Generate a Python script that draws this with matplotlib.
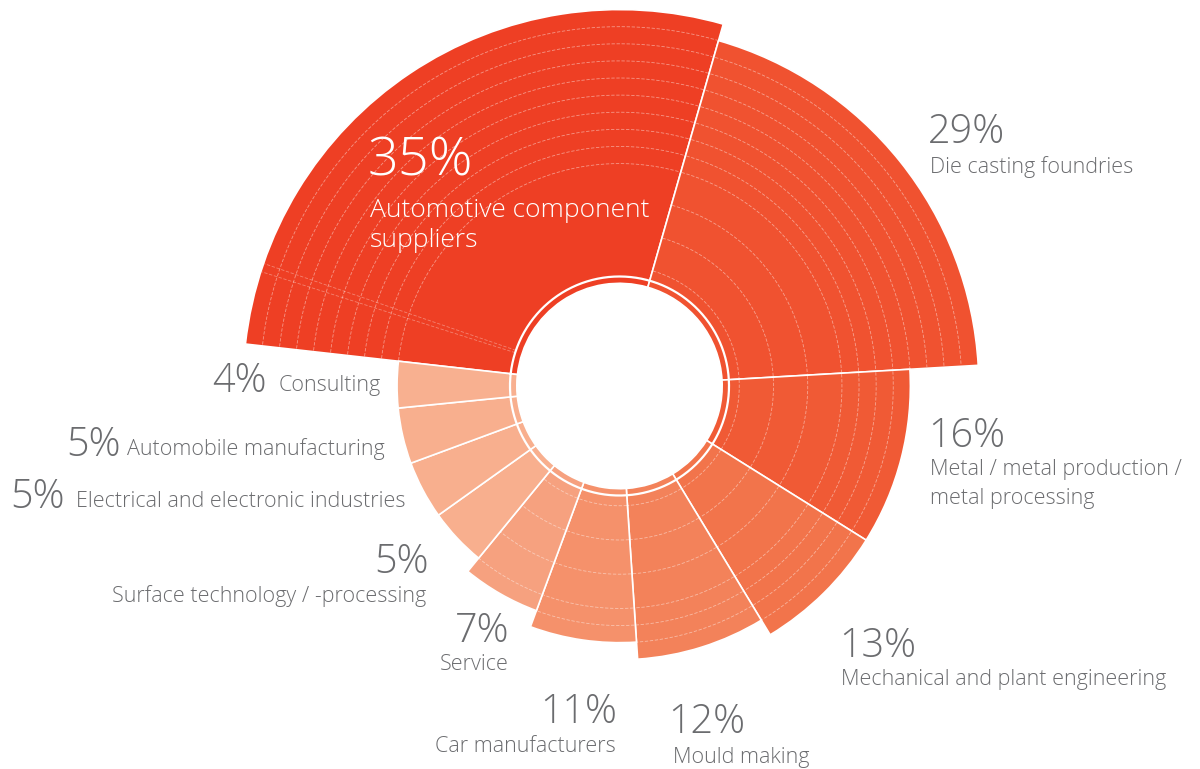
import numpy as np
import matplotlib
matplotlib.use("Agg")
import matplotlib.pyplot as plt

# survey share by industry, largest first, clockwise
industries = [
    ["Automotive component", "suppliers"],
    ["Die casting foundries"],
    ["Metal / metal production /", "metal processing"],
    ["Mechanical and plant engineering"],
    ["Mould making"],
    ["Car manufacturers"],
    ["Service"],
    ["Surface technology / -processing"],
    ["Electrical and electronic industries"],
    ["Automobile manufacturing"],
    ["Consulting"],
]
shares = [35, 29, 16, 13, 12, 11, 7, 5, 5, 5, 4]
# sector sweep in degrees and outer ring level of each sector
sweep_deg = [99.6, 70.7, 35.3, 26.8, 27.4, 24.1, 19.0, 15.2, 15.2, 14.6, 12.1]
reach = [22, 21, 17, 17, 16, 15, 14, 13, 13, 13, 13]

shades = ["#EE3F24", "#F05230", "#F05A35", "#F2744B", "#F3825A", "#F5916B",
          "#F6A17F", "#F8AF8E", "#F8AF8E", "#F8AF8E", "#F8B090"]
inner_grid = [False, True, True, True, True, True, True, False, False, False, False]

W, H = 1200, 769
FONT = "Open Sans"
GREY = "#6B6C6F"

fig = plt.figure(figsize=(W / 100, H / 100), dpi=100)
cx, cy, half = 619.5, 383, 385
ax = fig.add_axes([(cx - half) / W, (cy - half) / H, 2 * half / W, 2 * half / H],
                  projection="polar")
ax.set_theta_offset(np.deg2rad(173.6))
ax.set_theta_direction(-1)
ax.set_ylim(0, 22.5)
ax.set_axis_off()

hole = 6.0
spans = np.deg2rad(sweep_deg)
starts = np.concatenate([[0], np.cumsum(spans)[:-1]])
mids = starts + spans / 2
ax.bar(mids, np.array(reach) - hole, width=spans, bottom=hole, color=shades,
       edgecolor="white", linewidth=1.2, align="center", zorder=2)

# faint ring lines inside the sectors
for i in range(len(shares)):
    levels = [g for g in range(7, 22)
              if g < reach[i] and (g >= 13 or (inner_grid[i] and g % 2 == 1))]
    t = np.linspace(starts[i] + 0.004, starts[i] + spans[i] - 0.004, 200)
    for g in levels:
        ax.plot(t, np.full_like(t, g), color="white", lw=0.6, alpha=0.45,
                ls=(0, (4, 2)), zorder=3)

for a in (11.3, 12.6):
    ax.plot(np.deg2rad([a, a]), [6.4, 21.95], color="white", lw=0.6, alpha=0.35,
            ls=(0, (4, 2)), zorder=3)

ring = np.linspace(0, 2 * np.pi, 500)
ax.plot(ring, np.full_like(ring, 6.4), color="white", lw=1.6, zorder=4)


def put(x, y, s, size, color=GREY, ha="left"):
    fig.text(x / W, 1 - y / H, s, fontsize=size, color=color, ha=ha,
             va="baseline", family=FONT, weight=300)


def label(i, x, y, px, py, ha="left", gap=30, color=GREY, big=28.5, small=15.5):
    put(px, py, f"{shares[i]}%", big, color=color, ha=ha)
    for k, line in enumerate(industries[i]):
        put(x, y + k * gap, line, small, color=color, ha=ha)


label(0, 370, 217, 368, 175, color="white", big=39, small=19)
label(1, 930, 173, 928, 143)
label(2, 930, 475, 928, 447, gap=29)
label(3, 841, 685, 839, 657)
label(4, 673, 763, 668, 733)
label(5, 616, 752, 617, 723, ha="right")
label(6, 509, 670, 509, 642, ha="right")
label(7, 426, 602, 429, 573, ha="right")

# inline labels on the left
for i, (px, x, y) in zip([8, 9, 10], [(10, 76, 508), (66, 127, 456), (212, 279, 392)]):
    put(px, y, f"{shares[i]}%", 28.5)
    put(x, y - 1, industries[i][0], 15.5)

fig.savefig("out.png", dpi=100)
